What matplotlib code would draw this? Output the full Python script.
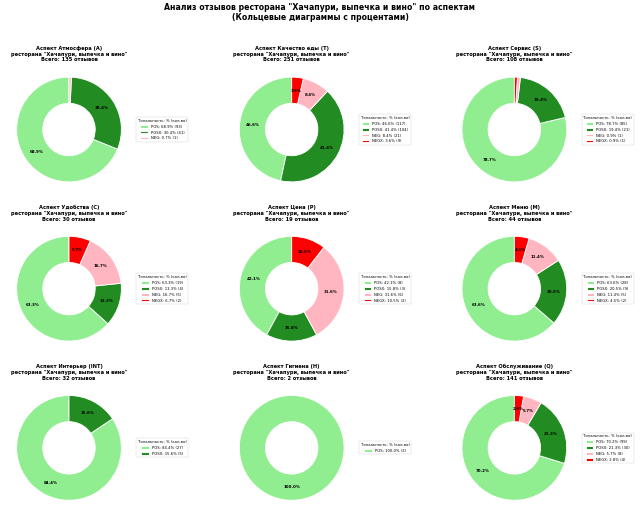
# Кольцевые диаграммы по аспектам
import matplotlib
matplotlib.use('Agg')
import matplotlib.pyplot as plt

restaurant = 'Хачапури, выпечка и вино'

aspects = ['Атмосфера (A)', 'Качество еды (T)', 'Сервис (S)',
           'Удобства (C)', 'Цена (P)', 'Меню (M)',
           'Интерьер (INT)', 'Гигиена (H)', 'Обслуживание (Q)']
labels = ['POS', 'POSX', 'NEG', 'NEGX']
pos = [93, 117, 85, 19, 8, 28, 27, 2, 99]
posx = [41, 104, 21, 4, 3, 9, 5, 0, 30]
neg = [1, 21, 1, 5, 6, 5, 0, 0, 8]
negx = [0, 9, 1, 2, 2, 2, 0, 0, 4]
colors = ['lightgreen', 'forestgreen', 'lightpink', 'red']

fig, axes = plt.subplots(3, 3, figsize=(20, 16.16), dpi=32)
fig.suptitle('Анализ отзывов ресторана "' + restaurant + '" по аспектам\n(Кольцевые диаграммы с процентами)',
             fontsize=17.5, fontweight='bold', y=0.995)

for i, ax in enumerate(axes.flat):
    counts = [pos[i], posx[i], neg[i], negx[i]]
    vals = [c for c in counts if c > 0]
    labs = [l for l, c in zip(labels, counts) if c > 0]
    cols = [col for col, c in zip(colors, counts) if c > 0]
    total = sum(vals)
    # мелкие сектора без подписи
    wedges, texts, autotexts = ax.pie(vals, colors=cols, startangle=90,
                                      autopct=lambda p: f'{p:.1f}%' if p > 1 else '',
                                      pctdistance=0.75, wedgeprops=dict(width=0.5, edgecolor='white', linewidth=2),
                                      textprops=dict(fontsize=9, fontweight='bold'))
    ax.set_title('Аспект ' + aspects[i] + '\nресторана "' + restaurant + '"\nВсего: ' + str(total) + ' отзывов',
                 fontsize=11.5, fontweight='bold')
    leg_labels = [f'{l}: {v / total * 100:.1f}% ({v})' for l, v in zip(labs, vals)]
    ax.legend(wedges, leg_labels, title='Тональность: % (кол-во)', loc='center left',
              bbox_to_anchor=(1, 0, 0.5, 1), fontsize=8.5, title_fontsize=8.5)

plt.subplots_adjust(left=0.0055, right=0.906, top=0.876, bottom=0.007, wspace=0.70, hspace=0.215)
plt.savefig('out.png', dpi=32)
